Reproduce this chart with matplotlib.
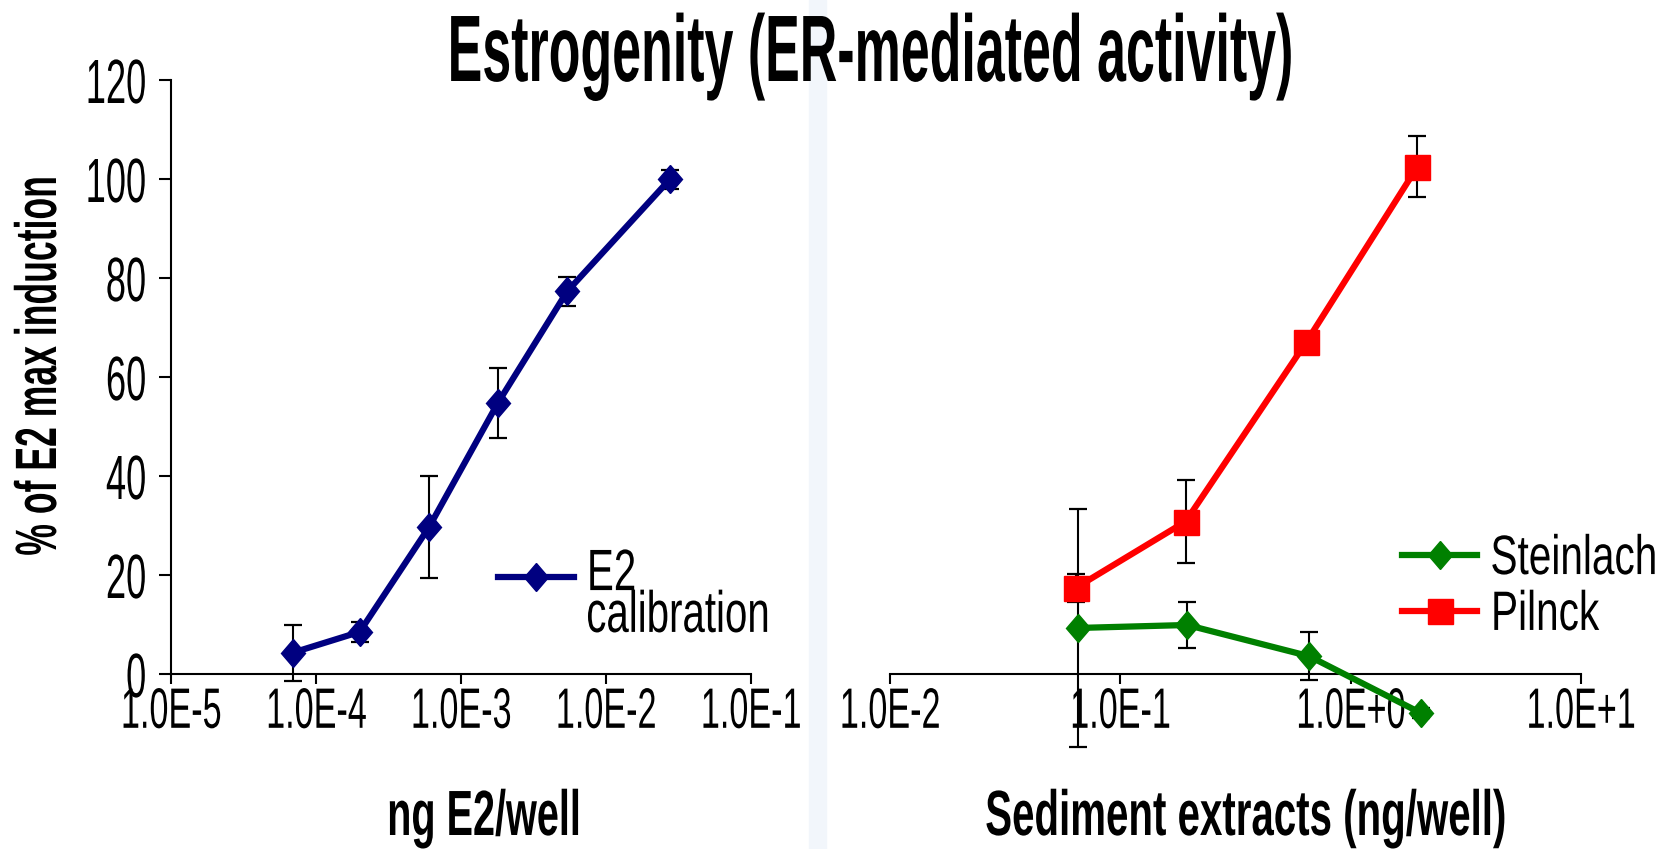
import numpy as np
import matplotlib
matplotlib.use("Agg")
import matplotlib.pyplot as plt
from matplotlib.patheffects import AbstractPathEffect
from matplotlib.transforms import Affine2D, Bbox
from matplotlib.markers import MarkerStyle
from matplotlib.patches import Rectangle
from matplotlib.text import Text


# E2 calibration (ng E2/well)
e2_dose = [6.9e-5, 2.0e-4, 6.0e-4, 1.8e-3, 5.4e-3, 2.75e-2]
e2_resp = [4.3, 8.5, 29.6, 54.8, 77.3, 99.9]
e2_err = [5.7, 2.0, 10.3, 7.1, 2.9, 2.0]

# Sediment extracts (mg/well)
steinlach_dose = [0.0655, 0.195, 0.66, 2.02]
steinlach_resp = [9.3, 9.9, 3.6, -7.9]
steinlach_err = [24.1, 4.7, 4.9, 1.0]

pilnck_dose = [0.064, 0.192, 0.643, 1.95]
pilnck_resp = [17.4, 30.8, 67.1, 102.5]
pilnck_err = [2.8, 8.4, 0.0, 6.2]

y_ticks = [0, 20, 40, 60, 80, 100, 120]
left_xticks = [1e-5, 1e-4, 1e-3, 1e-2, 1e-1]
left_xlabels = ["1.0E-5", "1.0E-4", "1.0E-3", "1.0E-2", "1.0E-1"]
right_xticks = [1e-2, 1e-1, 1e0, 1e1]
right_xlabels = ["1.0E-2", "1.0E-1", "1.0E+0", "1.0E+1"]

NAVY = "#000080"
GREEN = "#008000"
RED = "#ff0000"


# squeeze text horizontally (the original slide uses very condensed type)
class Squeeze(AbstractPathEffect):
    def __init__(self, sx=0.6, anchor=0.5):
        super().__init__()
        self.sx = sx
        self.anchor = anchor

    def draw_path(self, renderer, gc, tpath, affine, rgbFace=None):
        ext = tpath.get_extents()
        x0 = ext.x0 + self.anchor * ext.width
        sq = Affine2D().translate(-x0, 0).scale(self.sx, 1).translate(x0, 0)
        renderer.draw_path(gc, tpath, sq + affine, rgbFace)


class SqueezedText(Text):
    # extent of what is actually drawn
    def get_window_extent(self, renderer=None, dpi=None):
        bb = super().get_window_extent(renderer, dpi)
        sx, anchor = self._squeeze
        if abs(self.get_rotation() % 180 - 90) < 1:
            h = bb.height
            return Bbox.from_bounds(bb.x0, bb.y0 + anchor * h * (1 - sx),
                                    bb.width, h * sx)
        w = bb.width
        return Bbox.from_bounds(bb.x0 + anchor * w * (1 - sx), bb.y0,
                                w * sx, bb.height)


def squeeze(texts, sx, anchor=0.5):
    for t in texts:
        t.set_path_effects([Squeeze(sx, anchor)])
        t.__class__ = SqueezedText
        t._squeeze = (sx, anchor)


def tall_diamond():
    return MarkerStyle('D', transform=Affine2D().scale(0.85, 1.0))


plt.rcParams['font.family'] = ['Liberation Sans', 'DejaVu Sans']

W, H = 1675, 849
fig = plt.figure(figsize=(W / 100, H / 100), dpi=100)
fig.patch.set_facecolor("white")
fig.add_artist(Rectangle((809 / W, 0), 17 / W, 1, transform=fig.transFigure,
                         color="#f2f6fb", zorder=0))

ybot = (H - 748.25) / H
yh = 668.25 / H
ax1 = fig.add_axes([171 / W, ybot, 580 / W, yh])
ax2 = fig.add_axes([890 / W, ybot, 691 / W, yh])

for ax in (ax1, ax2):
    ax.set_facecolor("none")
    ax.set_xscale("log")
    ax.set_ylim(-15, 120)
    ax.spines['top'].set_visible(False)
    ax.spines['right'].set_visible(False)
    ax.spines['bottom'].set_position(('data', 0))
    ax.spines['bottom'].set_linewidth(1.5)
    ax.spines['left'].set_linewidth(1.5)
    ax.minorticks_off()
    ax.tick_params(axis='x', which='major', direction='out', length=7,
                   width=1.5, labelsize=41, pad=1.5)
    ax.tick_params(axis='x', which='minor', length=0)

# ---- left panel: E2 calibration
ax1.set_xlim(1e-5, 1e-1)
ax1.set_xticks(left_xticks)
ax1.set_xticklabels(left_xlabels)
ax1.set_yticks(y_ticks)
ax1.set_yticklabels([str(v) for v in y_ticks])
ax1.spines['left'].set_bounds(0, 120)
ax1.tick_params(axis='y', direction='out', length=9, width=1.5,
                labelsize=45, pad=8)

ax1.errorbar(e2_dose, e2_resp, yerr=e2_err, fmt='none', ecolor='black',
             elinewidth=1.5, capsize=6.5, capthick=1.6, zorder=2)
ax1.plot(e2_dose, e2_resp, color=NAVY, lw=4.5, marker=tall_diamond(), ms=14,
         label="E2\ncalibration", zorder=3)

# ---- right panel: sediment extracts
ax2.set_xlim(1e-2, 1e1)
ax2.set_xticks(right_xticks)
ax2.set_xticklabels(right_xlabels)
ax2.spines['left'].set_visible(False)
ax2.set_yticks([])

ax2.errorbar(steinlach_dose, steinlach_resp, yerr=steinlach_err, fmt='none',
             ecolor='black', elinewidth=1.5, capsize=6.5, capthick=1.6, zorder=2)
ax2.errorbar(pilnck_dose, pilnck_resp, yerr=pilnck_err, fmt='none',
             ecolor='black', elinewidth=1.5, capsize=6.5, capthick=1.6, zorder=2)
ax2.plot(steinlach_dose, steinlach_resp, color=GREEN, lw=4.5,
         marker=tall_diamond(), ms=14, label="Steinlach", zorder=3)
ax2.plot(pilnck_dose, pilnck_resp, color=RED, lw=4.5, marker='s', ms=18,
         label="Pilnck", zorder=4)

# tick labels squeezed
squeeze(ax1.get_xticklabels(), 0.6, 0.5)
squeeze(ax2.get_xticklabels(), 0.6, 0.5)
squeeze(ax1.get_yticklabels(), 0.58, 1.0)

# legends
leg1 = ax1.legend(loc='center left', bbox_to_anchor=(498 / W, (H - 596) / H),
                  bbox_transform=fig.transFigure, frameon=False, fontsize=42,
                  borderpad=0, borderaxespad=0, handlelength=1.3,
                  handletextpad=0.2)
for t in leg1.get_texts():
    t.set_linespacing(0.71)
# key sits level with the first line ("E2") as on the slide
key = leg1.legend_handles[0]
key.set_ydata(np.asarray(key.get_ydata()) + 14)
squeeze(leg1.get_texts(), 0.69, 0.0)

leg2 = ax2.legend(loc='center left', bbox_to_anchor=(1402 / W, (H - 588) / H),
                  bbox_transform=fig.transFigure, frameon=False, fontsize=40,
                  borderpad=0, borderaxespad=0, handlelength=1.35,
                  handletextpad=0.23, labelspacing=0.07)
squeeze(leg2.get_texts(), 0.73, 0.0)

# titles and axis labels
title = fig.text(871 / W, (H - 81) / H, "Estrogenity (ER-mediated activity)",
                 fontsize=68, fontweight='bold', ha='center', va='baseline')
squeeze([title], 0.55)

xl1 = fig.text(484 / W, (H - 835) / H, "ng E2/well", fontsize=46,
               fontweight='bold', ha='center', va='baseline')
squeeze([xl1], 0.62)
xl2 = fig.text(1246 / W, (H - 835) / H, "Sediment extracts (ng/well)",
               fontsize=46, fontweight='bold', ha='center', va='baseline')
squeeze([xl2], 0.63)

yl = fig.text(41 / W, (H - 365) / H, "% of E2 max induction", fontsize=42,
              fontweight='bold', rotation=90, ha='center', va='center')
squeeze([yl], 0.61)

fig.savefig("out.png", dpi=100)
